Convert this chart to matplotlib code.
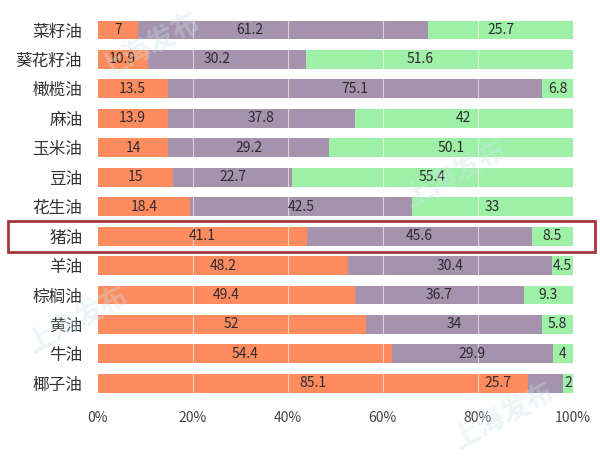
import numpy as np
import matplotlib
matplotlib.use("Agg")
import matplotlib.pyplot as plt
from matplotlib.patches import Rectangle

plt.rcParams['font.family'] = ['Noto Sans CJK SC', 'DejaVu Sans']

oils = ["菜籽油", "葵花籽油", "橄榄油", "麻油", "玉米油", "豆油", "花生油",
        "猪油", "羊油", "棕榈油", "黄油", "牛油", "椰子油"]

# printed labels
sat_label = ["7", "10.9", "13.5", "13.9", "14", "15", "18.4",
             "41.1", "48.2", "49.4", "52", "54.4", "85.1"]
mono_label = ["61.2", "30.2", "75.1", "37.8", "29.2", "22.7", "42.5",
              "45.6", "30.4", "36.7", "34", "29.9", "25.7"]
poly_label = ["25.7", "51.6", "6.8", "42", "50.1", "55.4", "33",
              "8.5", "4.5", "9.3", "5.8", "4", "2"]

# bar shares as drawn (percent of the full bar)
sat_share = [8.5, 10.5, 14.7, 14.7, 14.9, 15.9, 19.4,
             44.0, 52.8, 54.2, 56.4, 61.9, 90.5]
mono_share = [61.1, 33.4, 78.9, 39.5, 33.9, 25.1, 46.8,
              47.4, 42.8, 35.5, 37.2, 34.0, 7.5]
poly_share = [100 - a - b for a, b in zip(sat_share, mono_share)]

highlight = "猪油"

c_sat = "#FF8C5E"
c_mono = "#A592AD"
c_poly = "#9EF0A6"

fig = plt.figure(figsize=(6, 4.57), dpi=100)
ax = fig.add_axes([0.1628, 0.129, 0.7917, 0.8375])

y = np.arange(len(oils))
h = 0.64

sat = np.array(sat_share)
mono = np.array(mono_share)
poly = np.array(poly_share)

ax.barh(y, sat, height=h, color=c_sat, zorder=1)
ax.barh(y, mono, left=sat, height=h, color=c_mono, zorder=1)
ax.barh(y, poly, left=sat + mono, height=h, color=c_poly, zorder=1)

# light grid lines over the bars
for gx in [20, 40, 60, 80]:
    ax.axvline(gx, color="white", lw=0.8, alpha=0.6, zorder=2)

# label nudges where the source chart put them off centre
shift = {(0, 1): -7, (1, 1): -2, (1, 2): -4, (12, 1): -10}

txt = "#2e2a30"
for i in range(len(oils)):
    starts = [0, sat[i], sat[i] + mono[i]]
    widths = [sat[i], mono[i], poly[i]]
    labels = [sat_label[i], mono_label[i], poly_label[i]]
    for k in range(3):
        cx = starts[k] + widths[k] / 2 + shift.get((i, k), 0)
        ax.text(cx, y[i], labels[k], ha="center", va="center",
                fontsize=10, color=txt, zorder=3)

ax.set_xlim(0, 100)
ax.set_ylim(len(oils) - 0.5, -0.5)
ax.set_yticks(y)
ax.set_yticklabels(oils, fontsize=12, color="#333333")
ax.set_xticks([0, 20, 40, 60, 80, 100])
ax.set_xticklabels(["0%", "20%", "40%", "60%", "80%", "100%"],
                   fontsize=10, color="#444444")
ax.tick_params(axis="both", length=0)
ax.tick_params(axis="x", pad=9)
ax.tick_params(axis="y", pad=11)
for s in ax.spines.values():
    s.set_visible(False)

# red box around the highlighted row
hi = oils.index(highlight)
box_top = 1 - 221 / 457
box_bot = 1 - 252 / 457
fig.add_artist(Rectangle((8 / 600, box_bot), 587 / 600, box_top - box_bot,
                         transform=fig.transFigure, fill=False,
                         edgecolor="#A8343F", lw=2, zorder=5))

# faint watermark
for wx, wy in [(0.25, 0.90), (0.76, 0.62), (0.13, 0.30), (0.84, 0.09)]:
    fig.text(wx, wy, "上海发布", fontsize=20, color="#C9E6EA", alpha=0.35,
             rotation=28, ha="center", va="center", zorder=0.5,
             fontweight="bold")

fig.savefig("out.png", dpi=100)
